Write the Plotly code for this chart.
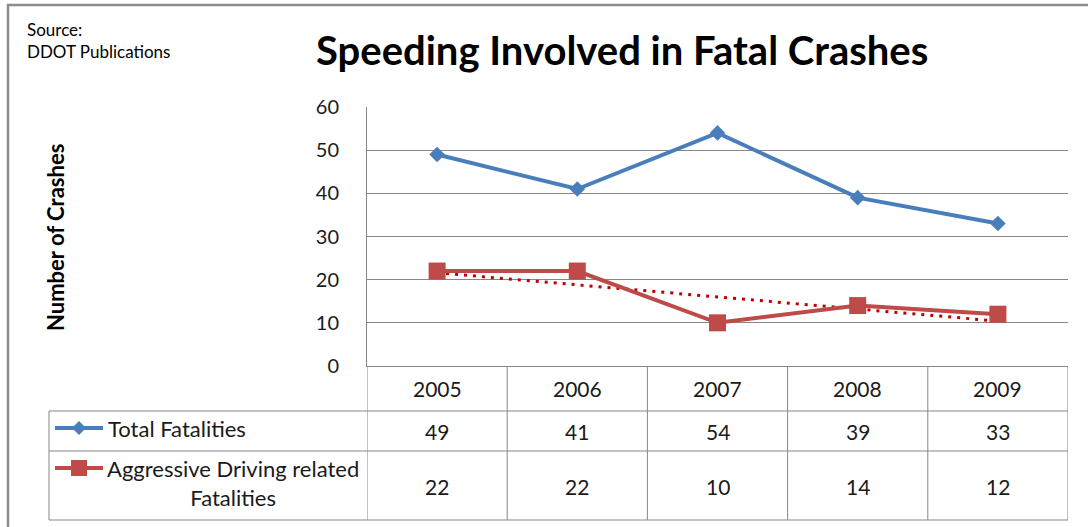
import numpy as np
import plotly.graph_objects as go

years = ["2005", "2006", "2007", "2008", "2009"]
total_fatalities = [49, 41, 54, 39, 33]
aggressive_fatalities = [22, 22, 10, 14, 12]
series_names = ["Total Fatalities", "Aggressive Driving related<br>Fatalities"]
title_text = "Speeding Involved in Fatal Crashes"
y_title = "Number of Crashes"
source_text = "Source:<br>DDOT Publications"

W, H = 1088, 527
L, R, T, B = 367, 1068, 107, 366
FONT = "Lato"
BLUE = "#4A7EBB"
RED = "#BE4B48"
GRID = "#878787"

def px(xp):
    return (xp - L) / (R - L)

def py(yp):
    return (B - yp) / (B - T)

xi = np.arange(len(years))
coef = np.polyfit(xi, aggressive_fatalities, 1)
trend = np.polyval(coef, xi)

fig = go.Figure()
fig.add_trace(go.Scatter(x=years, y=total_fatalities, mode="lines+markers",
                         line=dict(color=BLUE, width=4),
                         marker=dict(symbol="diamond", size=12, color=BLUE),
                         showlegend=False, hoverinfo="skip"))
fig.add_trace(go.Scatter(x=years, y=trend, mode="lines",
                         line=dict(color="#C00000", width=3, dash="3px,6px"),
                         showlegend=False, hoverinfo="skip"))
fig.add_trace(go.Scatter(x=years, y=aggressive_fatalities, mode="lines+markers",
                         line=dict(color=RED, width=4),
                         marker=dict(symbol="square", size=17, color=RED),
                         showlegend=False, hoverinfo="skip"))

shapes = []
ln = dict(color=GRID, width=1)
for yy in [411, 451, 520]:
    shapes.append(dict(type="line", xref="paper", yref="paper", x0=px(49), x1=px(R),
                       y0=py(yy), y1=py(yy), line=ln))
for k in range(len(years) + 1):
    shapes.append(dict(type="line", xref="x", yref="paper", x0=k - 0.5, x1=k - 0.5,
                       y0=0, y1=py(520), line=ln))
shapes.append(dict(type="line", xref="paper", yref="paper", x0=px(49), x1=px(49),
                   y0=py(411), y1=py(520), line=ln))
shapes.append(dict(type="line", xref="paper", yref="paper", x0=px(8), x1=px(8),
                   y0=py(4), y1=py(530), line=dict(color="#8C8C8C", width=2.5)))
shapes.append(dict(type="line", xref="paper", yref="paper", x0=px(7), x1=px(1090),
                   y0=py(5), y1=py(5), line=dict(color="#8C8C8C", width=2.5)))
for (yc, col, sym) in [(428, BLUE, "d"), (468, RED, "s")]:
    shapes.append(dict(type="line", xref="paper", yref="paper", x0=px(55), x1=px(103),
                       y0=py(yc), y1=py(yc), line=dict(color=col, width=4)))
    if sym == "d":
        path = "M -7 0 L 0 7 L 7 0 L 0 -7 Z"
    else:
        path = "M -8 -8 L 8 -8 L 8 8 L -8 8 Z"
    shapes.append(dict(type="path", xref="paper", yref="paper", xsizemode="pixel",
                       ysizemode="pixel", xanchor=px(79), yanchor=py(yc), path=path,
                       fillcolor=col, line=dict(color=col, width=0)))

ann = []
nf = dict(family=FONT, size=21, color="#1a1a1a")
lf = dict(family=FONT, size=22, color="#1a1a1a")
for i, yr in enumerate(years):
    for yy, txt in [(388, yr), (431, str(total_fatalities[i])), (486, str(aggressive_fatalities[i]))]:
        ann.append(dict(x=i, y=py(yy), xref="x", yref="paper", text=txt, showarrow=False,
                        xanchor="center", yanchor="middle", font=nf))
ann.append(dict(x=px(106), y=py(428), xref="paper", yref="paper", text=series_names[0],
                xanchor="left", yanchor="middle", showarrow=False, font=lf))
ann.append(dict(x=px(233), y=py(483), xref="paper", yref="paper", text=series_names[1],
                xanchor="center", yanchor="middle", align="center", showarrow=False, font=lf))
ann.append(dict(x=px(622), y=py(50), xref="paper", yref="paper", text="<b>" + title_text + "</b>",
                xanchor="center", yanchor="middle", showarrow=False,
                font=dict(family=FONT, size=40, color="black")))
ann.append(dict(x=px(55), y=py(238), xref="paper", yref="paper", text="<b>" + y_title + "</b>",
                xanchor="center", yanchor="middle", textangle=-90, showarrow=False,
                font=dict(family=FONT, size=22, color="black")))
ann.append(dict(x=px(25), y=py(40), xref="paper", yref="paper", text=source_text,
                xanchor="left", yanchor="middle", align="left", showarrow=False,
                font=dict(family=FONT, size=17, color="black")))

fig.update_layout(
    width=W, height=H,
    margin=dict(l=L, r=W - R, t=T, b=H - B),
    paper_bgcolor="white", plot_bgcolor="white",
    xaxis=dict(type="category", range=[-0.5, len(years) - 0.5], showticklabels=False,
               showgrid=False, zeroline=False, showline=True, linecolor=GRID, linewidth=1,
               fixedrange=True),
    yaxis=dict(range=[0, 60], dtick=10, showgrid=True, gridcolor=GRID, gridwidth=1,
               showline=True, linecolor=GRID, linewidth=1, zeroline=False,
               tickfont=dict(family=FONT, size=20, color="#1a1a1a"), ticklabelstandoff=23,
               ticks="", fixedrange=True),
    shapes=shapes, annotations=ann,
)
fig.write_html("out.html", config={"displayModeBar": False},
               post_script="document.body.style.margin='0';")
